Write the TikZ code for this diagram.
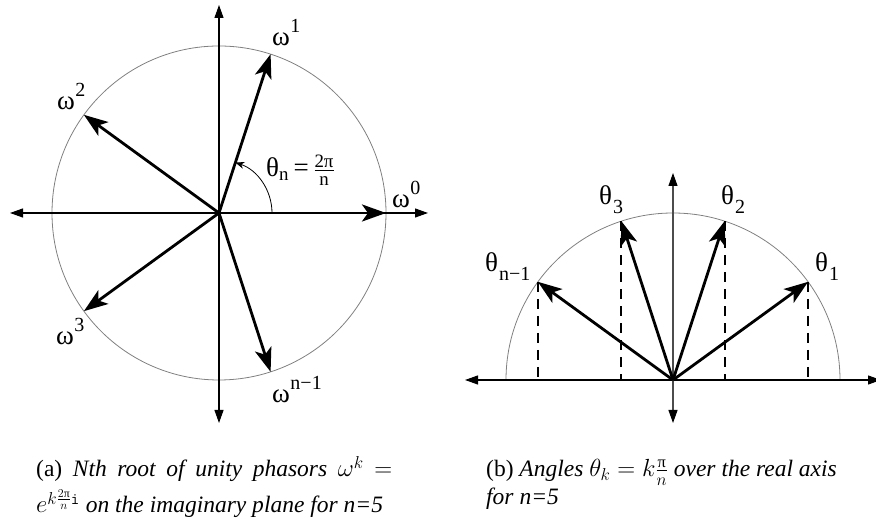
\documentclass[tikz,border=0pt]{standalone}
\usepackage{amsmath}
\usepackage{fontspec}
\setmainfont{Liberation Serif}
\usetikzlibrary{arrows.meta,calc}
\newcommand\supr[1]{\kern0.5bp\raisebox{13bp}{\fontsize{20bp}{20bp}\selectfont #1}}
\newcommand\subr[1]{\kern1bp\raisebox{-9bp}{\fontsize{20bp}{20bp}\selectfont #1}}
\begin{document}
\begin{tikzpicture}[x=1bp,y=1bp,
  axis/.style={line width=1.1bp, {Triangle[length=13bp,width=9bp,black]}-{Triangle[length=13bp,width=9bp,black]}},
  circ/.style={gray, line width=0.8bp},
  phasor/.style={line width=2.8bp, -{Stealth[length=24bp,width=17bp,inset=6bp]}},
  proj/.style={line width=2bp, dash pattern=on 10bp off 7bp},
  anglearc/.style={line width=0.8bp, -{Stealth[length=9bp,width=7bp]}},
  lbl/.style={inner sep=0pt, anchor=base west, font=\fontsize{27bp}{30bp}\selectfont},
  captext/.style={inner sep=0pt, anchor=base west, font=\fontsize{23.5bp}{28bp}\selectfont}]
\useasboundingbox (0,0) rectangle (876,523);
% ---------- left: roots of unity ----------
\coordinate (O1) at (219,310);
\coordinate (L1) at (10,310);
\coordinate (R1) at (428,310);
\coordinate (T1) at (219,518);
\coordinate (B1) at (219,100);
\draw[circ] (O1) circle (167);
\draw[axis] (L1) -- (R1);
\draw[axis] (B1) -- (T1);
\foreach \k/\a in {0/0,1/72,2/144,3/216,4/288}
  \coordinate (w\k) at ($(O1)+(\a:167)$);
\foreach \k in {0,1,2,3,4}
  \draw[phasor] (O1) -- (w\k);
\coordinate (arcstart) at ($(O1)+(0:53)$);
\draw[anglearc] (arcstart) arc[start angle=0,end angle=72,radius=53];
\node[lbl] (lw1) at (272,477) {ω\supr{1}};
\node[lbl] (lw2) at (57,413) {ω\supr{2}};
\node[lbl] (lw0) at (392,315) {ω\supr{0}};
\node[lbl] (lw3) at (56,178) {ω\supr{3}};
\node[lbl] (lwn) at (272,120) {ω\supr{n−1}};
\node[lbl] (thn) at (266,346) {θ$_{\mathrm{n}}$\,=\,$\frac{\text{2π}}{\text{n}}$};
% ---------- right: half circle ----------
\coordinate (O2) at (673,143);
\coordinate (L2) at (465,143);
\coordinate (R2) at (881,143);
\coordinate (T2) at (673,350);
\coordinate (B2) at (673,100);
\draw[circ] ($(O2)+(167,0)$) arc[start angle=0,end angle=180,radius=167];
\draw[axis] (L2) -- (R2);
\draw[axis, draw=black!70] (B2) -- (T2);
\foreach \k/\a in {1/36,2/72,3/108,4/144}
  \coordinate (t\k) at ($(O2)+(\a:167)$);
\foreach \k in {1,2,3,4}
  \draw[proj] (t\k) -- (t\k |- O2);
\foreach \k in {1,2,3,4}
  \draw[phasor] (O2) -- (t\k);
\node[lbl] (lt3) at (599,318) {θ\subr{3}};
\node[lbl] (lt2) at (721,318) {θ\subr{2}};
\node[lbl] (lt1) at (815,251) {θ\subr{1}};
\node[lbl] (ltn) at (485,251) {θ\subr{n−1}};
% ---------- captions ----------
\node[captext] (capa1) at (36,46) {\makebox[356bp][s]{(a) \textit{Nth root of unity phasors} $\omega^k$ $=$}};
\node[captext] (capa2) at (36,10) {$e^{k\frac{2\text{π}}{n}\mathtt{i}}$ \textit{on the imaginary plane for n=5}};
\node[captext] (capb1) at (486,46) {(b) \textit{Angles} $\theta_k = k\frac{\text{π}}{n}$ \textit{over the real axis}};
\node[captext] (capb2) at (486,18) {\textit{for n=5}};
\end{tikzpicture}
\end{document}
